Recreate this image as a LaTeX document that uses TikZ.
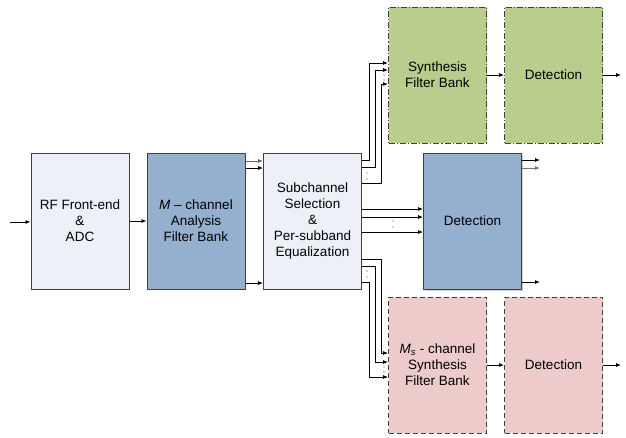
\documentclass[tikz,border=0pt]{standalone}
\usepackage{fontspec}
\setmainfont{Liberation Sans}
\usetikzlibrary{arrows.meta,shadows}
\definecolor{lightbox}{HTML}{EDF1F7}
\definecolor{bluebox}{HTML}{95AFCF}
\definecolor{greenbox}{HTML}{B9CD8C}
\definecolor{pinkbox}{HTML}{EECBCB}
\definecolor{edge}{HTML}{404040}
\begin{document}
\begin{tikzpicture}[x=1pt,y=-1pt,
  blk/.style={draw=edge,line width=1pt,minimum width=98pt,minimum height=136pt,inner sep=0pt,align=center,font=\fontsize{13.5}{16}\selectfont},
  lightblk/.style={blk,fill=lightbox},
  blueblk/.style={blk,fill=bluebox},
  greenblk/.style={blk,fill=greenbox,dash pattern=on 6pt off 2pt on 1.2pt off 2pt},
  pinkblk/.style={blk,fill=pinkbox,dash pattern=on 5pt off 3pt},
  arr/.style={-{Latex[length=5pt,width=4pt]},line width=0.8pt,black},
  dot/.style={fill=black!70}]
\useasboundingbox (0,0) rectangle (626,437);

\node[lightblk] (rf) at (80,221) {RF Front-end\\\&\\ADC};
\node[blueblk] (mcf) at (196,221) {\textit{M} – channel\\Analysis\\Filter Bank};
\node[lightblk] (sub) at (312.5,221) {Subchannel\\Selection\\\&\\Per-subband\\Equalization};
\node[blueblk,drop shadow={shadow xshift=1.5pt,shadow yshift=-1.5pt,fill=gray!70}] (det) at (472.5,221) {Detection};
\node[greenblk] (syn) at (437.5,75) {Synthesis\\Filter Bank};
\node[greenblk] (gdet) at (553.5,75) {Detection};
\node[pinkblk] (psyn) at (437.5,365) {\textit{M}\textsubscript{\textit{s}} - channel\\Synthesis\\Filter Bank};
\node[pinkblk] (pdet) at (553.5,365) {Detection};

\coordinate (in) at (10,222);
\coordinate (o1) at (540,160);
\coordinate (o2) at (540,168);
\coordinate (o3) at (540,282);
\coordinate (go) at (621,75);
\coordinate (po) at (621,365);

% input
\draw[arr] (in) -- (rf.west |- in);
\draw[arr] (rf.east |- 0,221) -- (mcf.west |- 0,221);

% analysis to subchannel
\draw[arr,draw=black!60] (mcf.east |- 0,161) -- (sub.west |- 0,161);
\draw[arr] (mcf.east |- 0,168) -- (sub.west |- 0,168);
\draw[arr] (mcf.east |- 0,283) -- (sub.west |- 0,283);

% subchannel to detection
\draw[arr] (sub.east |- 0,209) -- (det.west |- 0,209);
\draw[arr] (sub.east |- 0,217) -- (det.west |- 0,217);
\draw[arr] (sub.east |- 0,232) -- (det.west |- 0,232);
\fill[dot] (393,221) circle (0.6pt) (393,227) circle (0.6pt);

% subchannel to green synthesis
\draw[arr] (sub.east |- 0,160) -| (369,63) -- (syn.west |- 0,63);
\draw[arr] (sub.east |- 0,167) -| (375,70) -- (syn.west |- 0,70);
\draw[arr] (sub.east |- 0,183) -| (381,84) -- (syn.west |- 0,84);
\fill[dot] (367,173) circle (0.6pt) (367,179) circle (0.6pt);
\fill[dot] (384,75) circle (0.6pt) (384,80) circle (0.6pt);

% subchannel to pink synthesis
\draw[arr] (sub.east |- 0,259) -| (381,353) -- (psyn.west |- 0,353);
\draw[arr] (sub.east |- 0,266) -| (375,362) -- (psyn.west |- 0,362);
\draw[arr] (sub.east |- 0,282) -| (369,377) -- (psyn.west |- 0,377);
\fill[dot] (367,271) circle (0.6pt) (367,277) circle (0.6pt);
\fill[dot] (384,367) circle (0.6pt) (384,372) circle (0.6pt);

% detection outputs
\draw[arr] (det.east |- o1) -- (o1);
\draw[arr,draw=black!55] (det.east |- o2) -- (o2);
\draw[arr] (det.east |- o3) -- (o3);

% green chain
\draw[arr] (syn.east) -- (gdet.west);
\draw[arr] (gdet.east) -- (go);

% pink chain
\draw[arr] (psyn.east) -- (pdet.west);
\draw[arr] (pdet.east) -- (po);
\end{tikzpicture}
\end{document}
